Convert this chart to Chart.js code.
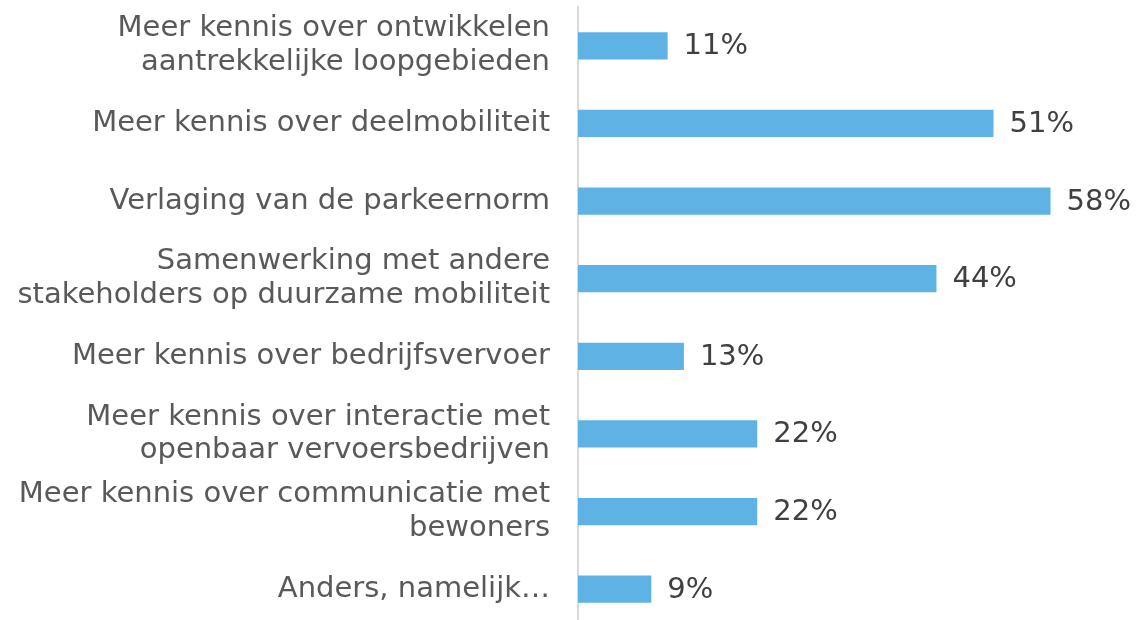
<!DOCTYPE html>
<html>
<head>
<meta charset="utf-8">
<script src="https://cdn.jsdelivr.net/npm/chart.js@4"></script>
<style>
  html, body { margin: 0; padding: 0; background: #fff; overflow: hidden; }
  #wrap { position: absolute; left: 0; top: 0; width: 1138px; height: 628px; }
</style>
</head>
<body>
<div id="wrap"><canvas id="chart"></canvas></div>
<script>
const categories = [
  ['Meer kennis over ontwikkelen', 'aantrekkelijke loopgebieden'],
  'Meer kennis over deelmobiliteit',
  'Verlaging van de parkeernorm',
  ['Samenwerking met andere', 'stakeholders op duurzame mobiliteit'],
  'Meer kennis over bedrijfsvervoer',
  ['Meer kennis over interactie met', 'openbaar vervoersbedrijven'],
  ['Meer kennis over communicatie met', 'bewoners'],
  'Anders, namelijk…'
];
const percentages = [11, 51, 58, 44, 13, 22, 22, 9];

const FONT = 'DejaVu Sans, Verdana, sans-serif';

// writes "NN%" right after every bar
const valueLabels = {
  id: 'valueLabels',
  afterDatasetsDraw(chart) {
    const ctx = chart.ctx;
    const meta = chart.getDatasetMeta(0);
    ctx.save();
    ctx.font = '29px ' + FONT;
    ctx.fillStyle = '#404040';
    ctx.textAlign = 'left';
    ctx.textBaseline = 'middle';
    meta.data.forEach((bar, i) => {
      ctx.fillText(percentages[i] + '%', bar.x + 16, bar.y + 1);
    });
    ctx.restore();
  }
};

new Chart(document.getElementById('chart'), {
  type: 'bar',
  data: {
    labels: categories,
    datasets: [{
      data: percentages,
      backgroundColor: '#5EB3E4',
      categoryPercentage: 1,
      barPercentage: 0.35
    }]
  },
  options: {
    indexAxis: 'y',
    responsive: true,
    maintainAspectRatio: false,
    animation: false,
    layout: { padding: { top: 7, right: 6, bottom: 0, left: 0 } },
    plugins: {
      legend: { display: false },
      tooltip: { enabled: false }
    },
    scales: {
      x: {
        display: false,
        min: 0,
        max: 68
      },
      y: {
        afterFit(scale) {
          scale.width = 578;
          scale.paddingTop = 0;
          scale.paddingBottom = 0;
        },
        grid: { display: false, drawTicks: false },
        border: { display: true, color: '#D9D9D9', width: 2 },
        ticks: {
          color: '#595959',
          padding: 28,
          font: { family: FONT, size: 29, lineHeight: 1.17 }
        }
      }
    }
  },
  plugins: [valueLabels]
});
</script>
</body>
</html>
